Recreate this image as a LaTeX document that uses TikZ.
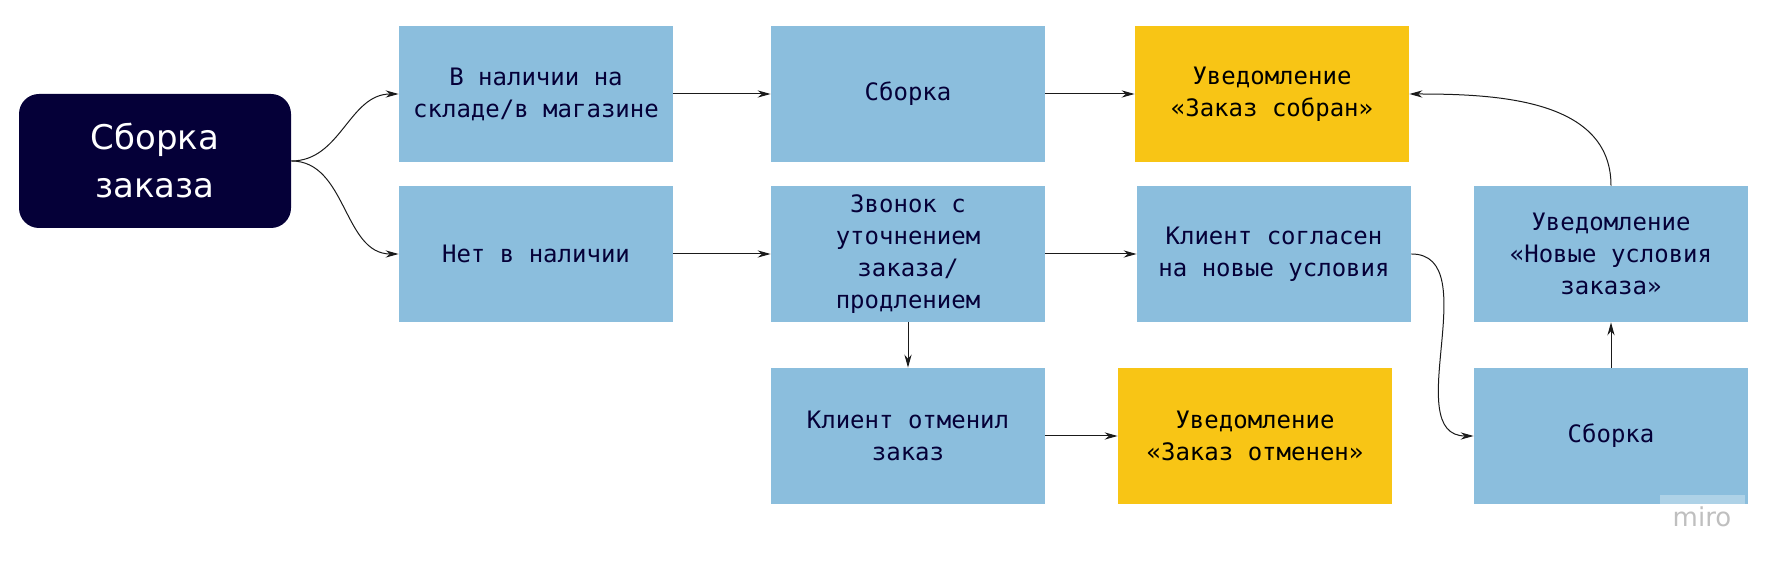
\documentclass[tikz,border=0pt]{standalone}
\usepackage{fontspec}
\setmainfont{DejaVu Sans}
\setmonofont{DejaVu Sans Mono}
\usetikzlibrary{arrows.meta}
\definecolor{navy}{HTML}{050038}
\definecolor{boxblue}{HTML}{8BBEDD}
\definecolor{boxyellow}{HTML}{F8C515}
\definecolor{linegray}{HTML}{1A1A1A}
\begin{document}
\begin{tikzpicture}[x=0.5pt,y=-0.5pt,
  bluebox/.style={fill=boxblue,minimum width=137pt,minimum height=68pt,inner sep=0pt,
    align=center,text=navy,font=\ttfamily\fontsize{12}{16}\selectfont},
  yellowbox/.style={bluebox,fill=boxyellow,text=black},
  startbox/.style={fill=navy,rounded corners=10pt,minimum width=136pt,minimum height=67pt,
    inner sep=0pt,align=center,text=white,font=\fontsize{17}{24}\selectfont},
  arr/.style={-{Stealth[length=6.5pt,width=3.6pt]},linegray,line width=0.5pt}]
\useasboundingbox (0,0) rectangle (1768,565);
\node[startbox] (start) at (155,161) {Сборка\\заказа};
\node[bluebox] (avail) at (536,94) {В наличии на\\складе/в магазине};
\node[bluebox] (noavail) at (536,254) {Нет в наличии};
\node[bluebox] (build1) at (908,94) {Сборка};
\node[bluebox] (call) at (908,254) {Звонок с\\уточнением\\заказа/\\продлением};
\node[yellowbox] (done) at (1272,94) {Уведомление\\«Заказ собран»};
\node[bluebox] (agree) at (1274,254) {Клиент согласен\\на новые условия};
\node[bluebox] (cancel) at (908,436) {Клиент отменил\\заказ};
\node[yellowbox] (canceled) at (1255,436) {Уведомление\\«Заказ отменен»};
\node[bluebox] (build2) at (1611,436) {Сборка};
\node[bluebox] (newterms) at (1611,254) {Уведомление\\«Новые условия\\заказа»};
% miro mark
\fill[boxblue!70!white] (1660,495) rectangle (1745,504);
\node[text=black!25,font=\fontsize{13}{13}\selectfont] (miro) at (1702,517) {miro};
\draw[arr] (start.east) to[out=0,in=180] (avail.west);
\draw[arr] (start.east) to[out=0,in=180] (noavail.west);
\draw[arr] (avail) -- (build1);
\draw[arr] (build1) -- (done);
\draw[arr] (noavail) -- (call);
\draw[arr] (call) -- (agree);
\draw[arr] (call) -- (cancel);
\draw[arr] (cancel) -- (canceled);
\draw[arr] (agree.east) to[out=0,in=180] (build2.west);
\draw[arr] (build2) -- (newterms);
\draw[arr] (newterms.north) to[out=90,in=0] (done.east);
\end{tikzpicture}
\end{document}
